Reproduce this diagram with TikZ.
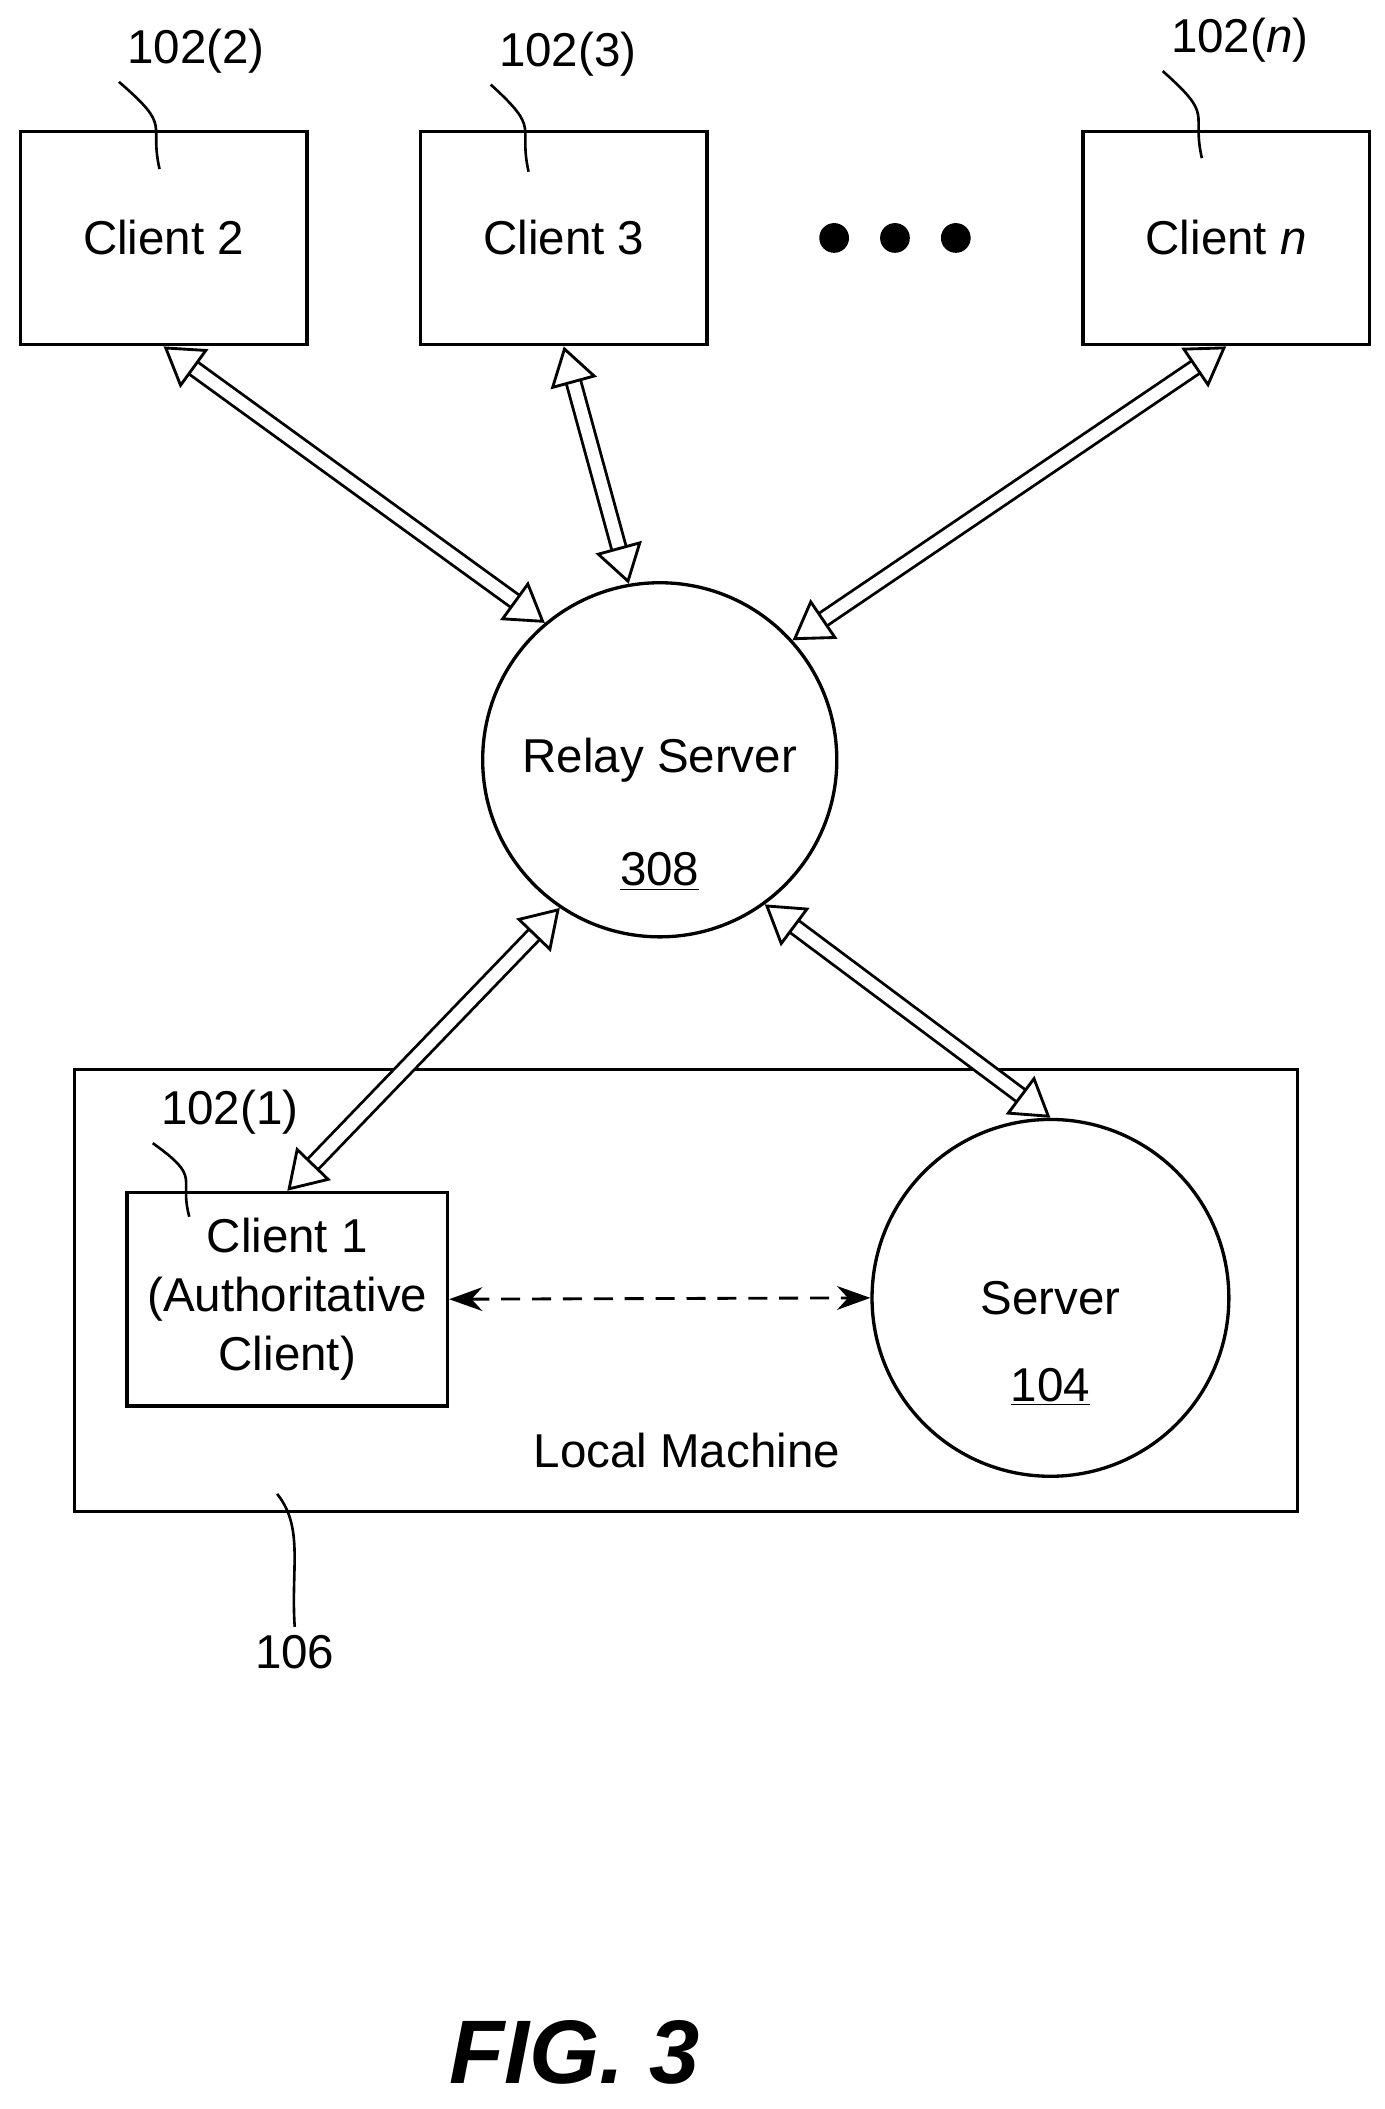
\documentclass[tikz,border=0pt]{standalone}
\usepackage{fontspec}
\setmainfont{Liberation Sans}
\usetikzlibrary{arrows.meta}
\tikzstyle{client}=[draw,line width=1.4pt,minimum width=4.24cm,minimum height=3.16cm,inner sep=0pt,align=center,font=\fontsize{20}{25}\selectfont]
\tikzstyle{srv}=[draw,circle,line width=1.4pt,inner sep=0pt]
\tikzstyle{lbl}=[font=\fontsize{20}{24}\selectfont]
\tikzstyle{link}=[double,double distance=5pt,line width=1.2pt,{Triangle[open,length=16pt,width=20pt]}-{Triangle[open,length=16pt,width=20pt]}]
\tikzstyle{lead}=[line width=1.1pt]
\begin{document}
\begin{tikzpicture}[x=0.02cm,y=-0.02cm]
\useasboundingbox (0,0) rectangle (1024,1560);
\node[client] at (121, 176) (c2) {Client 2};
\node[client] at (417, 176) (c3) {Client 3};
\node[client] at (907, 176) (cn) {Client \textit{n}};
\foreach \x in {617,662,707}
  \fill (\x,176) circle (11);
\node[srv,minimum size=5.24cm] at (488, 562) (relay) {};
\node[lbl] at (488, 562) (relaytxt) {Relay Server};
\node[lbl] at (488, 645) (relaynum) {\underline{308}};
\node[draw,line width=1.4pt,minimum width=18.1cm,minimum height=6.54cm,inner sep=0pt] at (507.5, 954.5) (local) {};
\node[client,minimum width=4.74cm] at (212.5, 961) (c1) {Client 1\\(Authoritative\\Client)};
\node[srv,minimum size=5.28cm] at (777, 960) (server) {};
\node[lbl] at (777, 960) (servertxt) {Server};
\node[lbl] at (777, 1026) (servernum) {\underline{104}};
\node[lbl] at (508, 1073) (lmtxt) {Local Machine};
% labels
\node[lbl] at (145, 38) (l2) {102(2)};
\node[lbl] at (420, 40) (l3) {102(3)};
\node[lbl] at (917, 30) (ln) {102(\textit{n})};
\node[lbl] at (170, 823) (l1) {102(1)};
\node[lbl] at (218, 1222) (l106) {106};
\draw[lead] (118,125) .. controls (110,90) and (128,95) .. (l2.south west);
\draw[lead] (391,127) .. controls (383,92) and (401,97) .. (l3.south west);
\draw[lead] (889,117) .. controls (881,82) and (899,87) .. (ln.south west);
\draw[lead] (140,900) .. controls (132,870) and (150,872) .. (l1.south west);
\draw[lead] (205,1105) .. controls (225,1130) and (215,1160) .. (l106.north);
% links
\draw[link] (c2.south) -- (relay.130);
\draw[link] (c3.south) -- (relay.100);
\draw[link] (cn.south) -- (relay.42);
\draw[link] (c1.north) -- (relay.236);
\draw[link] (server.north) -- (relay.306);
\draw[dash pattern=on 8pt off 5pt,line width=1.2pt,{Stealth[length=14pt,width=10pt]}-{Stealth[length=14pt,width=10pt]}] (c1.east) -- (server.west);
\node[font=\fontsize{38}{42}\selectfont\bfseries\itshape] at (425, 1518) (fig) {FIG. 3};
\end{tikzpicture}
\end{document}
